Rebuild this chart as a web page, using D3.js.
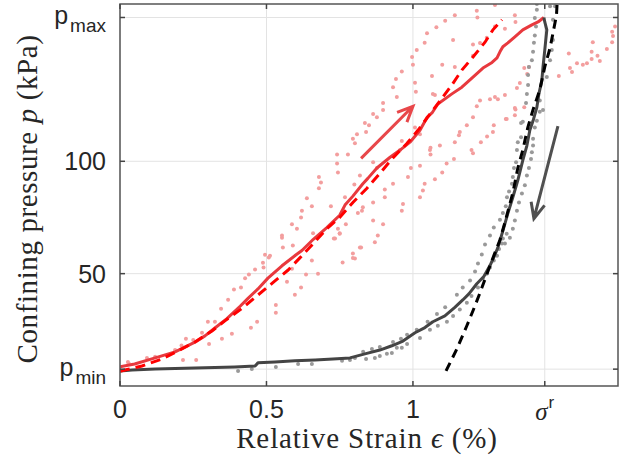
<!DOCTYPE html>
<html>
<head>
<meta charset="utf-8">
<script src="https://cdn.jsdelivr.net/npm/d3@7"></script>
<style>
  body { margin: 0; background: #fff; }
  svg { display: block; }
</style>
</head>
<body>
<script>
// ---- data: [strain %, pressure kPa] ----
var pMin = 7.5, pMax = 164, sigmaR = 1.45;

var xTicks = [0, 0.5, 1, sigmaR];
var xTickLabels = ["0", "0.5", "1", "sigma"];
var yTicks = [pMin, 50, 100, pMax];
var yTickLabels = ["pmin", "50", "100", "pmax"];

// mean loading curve (red solid)
var loadMean = [[0,8.5],[0.05,9.8],[0.12,12.5],[0.188,15.2],[0.256,19.5],[0.29,22.3],[0.324,25.8],
  [0.365,30],[0.41,35.5],[0.437,39],[0.471,43.2],[0.505,48],[0.553,53.5],[0.6,58.3],[0.621,60.3],
  [0.66,65.3],[0.706,70.5],[0.75,76],[0.768,80.5],[0.795,84.5],[0.829,90],[0.846,92.4],[0.877,97],
  [0.922,101.8],[0.956,105],[0.99,108.5],[1.024,113.8],[1.048,119.5],[1.065,121.5],[1.085,125.5],
  [1.133,130],[1.167,133],[1.205,137.5],[1.239,141.5],[1.27,144],[1.287,146],[1.297,148.7],
  [1.307,151],[1.324,152.7],[1.348,155.4],[1.375,158.5],[1.406,160.7],[1.427,162],[1.447,164]];

// fitted loading curve (red dashed)
var loadFit = [[0,6.5],[0.017,7.1],[0.075,8.9],[0.143,12],[0.198,15.6],[0.256,19.6],[0.314,24.5],
  [0.358,29],[0.416,34.5],[0.471,40.5],[0.522,46],[0.573,51.5],[0.614,57],[0.66,63.4],[0.706,70],
  [0.75,75],[0.795,81.7],[0.843,88],[0.887,94.6],[0.928,101],[0.98,108],[1.017,113.8],
  [1.058,121],[1.099,128],[1.133,134],[1.167,140.6],[1.205,146.4],[1.246,153],[1.273,158.5],[1.304,163]];

// mean unloading curve (dark solid)
var unloadMean = [[1.447,164],[1.45,162],[1.457,158.5],[1.45,149.5],[1.444,142],[1.44,136],
  [1.43,130],[1.423,124],[1.41,118],[1.399,113.8],[1.389,107],[1.375,100.4],[1.358,91.5],
  [1.341,84],[1.324,76.8],[1.307,69],[1.29,61.6],[1.275,57],[1.263,53.6],[1.242,48.7],
  [1.218,45.5],[1.191,41],[1.171,38.4],[1.143,35],[1.109,31.2],[1.068,28.6],[1.041,26],
  [1.007,23.7],[0.966,20],[0.928,17.9],[0.887,16],[0.836,14.3],[0.785,12.5],[0.727,12],
  [0.666,11.6],[0.597,11.2],[0.529,10.7],[0.471,10.3],[0.461,8.9],[0.392,8.5],[0.256,8],
  [0.12,7.6],[0.041,7.1],[0,6.7]];

// fitted unloading curve (black dashed)
var unloadFit = [[1.113,6.7],[1.15,16.5],[1.184,26.8],[1.205,33.5],[1.229,41.5],[1.253,50],
  [1.273,57],[1.297,65],[1.314,72.8],[1.341,86],[1.358,97],[1.375,105],[1.392,115],[1.41,123],
  [1.433,131.7],[1.45,142],[1.468,150.4],[1.478,157],[1.49,165],[1.492,170]];

// individual loading measurements (pink)
var loadDots = [[0.027,10.7],[0.092,12.5],[0.12,13],[0.188,16],[0.21,18],[0.225,21],[0.25,20.5],
  [0.28,23.7],[0.30,28.6],[0.324,28.6],[0.345,34.4],[0.369,38.4],[0.389,42.9],[0.413,43.8],
  [0.427,48],[0.44,49.6],[0.461,51.8],[0.488,54.9],[0.508,57.2],[0.49,52.7],[0.03,10],
  [0.215,11.6],[0.26,11.6],[0.304,18.7],[0.348,21],[0.382,23.2],[0.447,25.9],[0.468,28.6],
  [0.532,32.6],[0.532,36],[0.597,40.6],[0.618,43.8],[0.57,46.4],[0.635,49.6],[0.587,52.2],
  [0.553,66],[0.556,61.6],[0.59,62.5],[0.655,55.8],[0.659,68],[0.676,50],
  [0.512,58],[0.495,58.4],[0.553,67],[0.587,72],[0.604,70],[0.618,75],[0.621,78],[0.638,83.5],
  [0.655,80],[0.679,88],[0.686,90.6],[0.679,93],[0.741,103],[0.741,99],[0.744,95],[0.778,103],
  [0.802,108],[0.795,110],[0.809,112],[0.84,113],[0.836,117],[0.85,116],[0.864,121],[0.877,119.6],
  [0.72,80],[0.73,65.6],[0.744,70],[0.75,68],[0.771,72],[0.768,84],[0.8,89.7],[0.819,93.7],
  [0.812,77],[0.826,78],[0.829,79.5],[0.864,81.7],[0.864,99.6],[0.877,97],[0.904,87.5],[0.904,84],
  [0.932,90],[0.956,105],[0.962,109],[0.983,93],[0.993,97],[1.024,98],[1.007,115],[1.024,112],
  [1.06,106],[1.06,103],[1.075,92],[1.04,90],[1.034,87],[1.024,84],[0.87,64],[0.88,67],
  [0.864,73.7],[0.819,61.6],[0.795,57],[0.898,72],[0.966,81],[0.962,78],[0.734,65.6],[0.75,67.8],
  [0.76,55],[0.795,59],[0.802,56.7],[0.823,61.6],
  [1.1,95],[1.115,99],[1.14,101],[1.092,107],[1.058,105],[1.143,108.5],[1.157,111.6],[1.16,113],
  [1.184,116],[1.205,103.6],[1.2,105],[1.232,108.5],[1.253,111],[1.273,113],[1.276,116],
  [1.317,118.8],[1.348,120.5],[1.35,123],[1.205,119.6],[1.229,127],[1.218,124.5],[1.263,127.6],
  [1.28,128.6],[1.29,127.6],[1.314,129.5],[1.355,132.6],[1.365,134.8],[1.38,141.5],[1.39,138.8],
  [1.396,142],[1.348,123.7],[1.38,124],[1.32,118.8],
  [0.898,125.9],[0.898,122.8],[0.945,128.6],[0.932,133],[0.942,136.6],[0.962,140],[1.0,143],
  [0.997,146.4],[1.013,149.5],[1.04,152.7],[1.048,157],[1.08,159.6],[1.11,162.5],[1.143,165],
  [1.007,135],[1.01,131],[1.068,130],[1.1,143],[1.065,138],[1.075,129.5],[1.143,142],
  [1.137,154],[1.205,147],[1.205,152],[1.229,152.6],[1.252,155],[1.28,160],[1.314,159],
  [1.35,162],[1.348,165],[1.28,169.6],[1.218,167],[1.22,164],
  [1.498,138],[1.532,148],[1.536,141.5],[1.543,139.7],[1.56,143.6],[1.58,143],[1.594,143.6],
  [1.61,145.5],[1.61,148.7],[1.614,153],[1.63,147],[1.638,144.6],[1.662,150],[1.68,153],
  [1.68,157.6],[1.683,155.8],[1.69,160]];

// individual unloading measurements (grey)
var unloadDots = [[0.403,6.7],[0.45,7.6],[0.532,8.5],[0.608,9.8],[0.655,9.8],[0.758,11.2],
  [0.785,11.6],[0.802,12.5],[0.84,12],[0.887,13.4],[0.928,14.7],[0.962,17],
  [0.83,15.2],[0.86,16.5],[0.887,17.4],[0.932,19.6],[0.959,21],[0.98,22.8],[1.013,25],[1.05,28.6],
  [1.082,32],[1.11,35],[1.15,40.6],[1.17,43.8],[1.195,47],[1.212,51],[1.222,54.5],[1.235,58.5],
  [1.246,63],[1.263,67],
  [0.87,12.5],[0.911,14.3],[0.945,17],[0.98,18.7],[1.024,21.4],[1.058,25],[1.085,26.8],
  [1.116,28.6],[1.137,31.2],[1.16,34],[1.184,37],[1.2,40],[1.222,43.8],[1.239,47.8],[1.252,50],
  [1.263,52.7],[1.276,55.8],[1.287,58],[1.294,61],[1.304,63.4],[1.307,65.6],[1.32,67.8],
  [1.276,70.5],[1.297,74],[1.307,77],[1.317,80],[1.321,84],[1.328,86.6],[1.338,90],[1.341,93],
  [1.345,97],[1.352,99.6],[1.355,105],[1.358,108.5],[1.369,110.7],[1.369,117],
  [1.314,63.4],[1.331,66],[1.341,70],[1.348,73.7],[1.355,78],[1.362,81.7],[1.372,85.7],
  [1.382,89.3],[1.389,93.7],[1.396,97],[1.403,101],[1.406,104],[1.41,107],[1.41,110],[1.416,115],
  [1.423,118],[1.433,122],
  [1.375,117.6],[1.386,125.9],[1.389,130],[1.393,134],[1.393,138.4],[1.396,142],[1.406,145],
  [1.41,148.7],[1.413,152.7],[1.416,156],[1.42,160],[1.416,163.8],[1.423,167.4],[1.423,170],
  [1.444,122.8],[1.433,127],[1.457,137.5],[1.468,145],[1.474,149.5],[1.478,154],[1.478,163],
  [1.485,169],[1.468,169]];

// direction arrows: [from, to]
var loadArrow = [[0.823,101.3],[1.0,124.5]];
var unloadArrow = [[1.495,115.6],[1.413,74.5]];

// ---- drawing ----
var width = 622, height = 468;
var margin = {top: 4, right: 4, bottom: 82, left: 120};
var plotW = width - margin.left - margin.right,
    plotH = height - margin.top - margin.bottom;

var x = d3.scaleLinear().domain([0, 1.7]).range([0, plotW]);
var y = d3.scaleLinear().domain([0, 170]).range([plotH, 0]);

var svg = d3.select("body").append("svg")
  .attr("width", width).attr("height", height);
var g = svg.append("g")
  .attr("transform", "translate(" + margin.left + "," + margin.top + ")");

// grid
g.selectAll(".gx").data(xTicks).enter().append("line")
  .attr("x1", function(d) { return x(d); }).attr("x2", function(d) { return x(d); })
  .attr("y1", 0).attr("y2", plotH)
  .attr("stroke", "#e3e3e3").attr("stroke-width", 1);
g.selectAll(".gy").data(yTicks).enter().append("line")
  .attr("y1", function(d) { return y(d); }).attr("y2", function(d) { return y(d); })
  .attr("x1", 0).attr("x2", plotW)
  .attr("stroke", "#e3e3e3").attr("stroke-width", 1);

var plot = g.append("g");
plot.append("clipPath").attr("id", "clip").append("rect")
  .attr("width", plotW).attr("height", plotH);
var inner = plot.append("g").attr("clip-path", "url(#clip)");

// dots
inner.selectAll(".pink").data(loadDots).enter().append("circle")
  .attr("cx", function(d) { return x(d[0]); }).attr("cy", function(d) { return y(d[1]); })
  .attr("r", 2).attr("fill", "#f39e9e");
inner.selectAll(".grey").data(unloadDots).enter().append("circle")
  .attr("cx", function(d) { return x(d[0]); }).attr("cy", function(d) { return y(d[1]); })
  .attr("r", 2).attr("fill", "#999999");

var line = d3.line()
  .x(function(d) { return x(d[0]); })
  .y(function(d) { return y(d[1]); });

inner.append("path").datum(loadMean).attr("d", line)
  .attr("fill", "none").attr("stroke", "#e8393e").attr("stroke-width", 3)
  .attr("stroke-linejoin", "round");
inner.append("path").datum(unloadMean).attr("d", line)
  .attr("fill", "none").attr("stroke", "#444444").attr("stroke-width", 3)
  .attr("stroke-linejoin", "round");
inner.append("path").datum(loadFit).attr("d", line)
  .attr("fill", "none").attr("stroke", "#ff0000").attr("stroke-width", 3)
  .attr("stroke-dasharray", "10,6");
inner.append("path").datum(unloadFit).attr("d", line)
  .attr("fill", "none").attr("stroke", "#000000").attr("stroke-width", 3)
  .attr("stroke-dasharray", "9,6");

// arrows with open heads
function drawArrow(a, color)
{
  var x0 = x(a[0][0]), y0 = y(a[0][1]), x1 = x(a[1][0]), y1 = y(a[1][1]);
  var ang = Math.atan2(y1 - y0, x1 - x0);
  var len = 17, spread = 0.42;
  var h1 = [x1 - len * Math.cos(ang - spread), y1 - len * Math.sin(ang - spread)];
  var h2 = [x1 - len * Math.cos(ang + spread), y1 - len * Math.sin(ang + spread)];
  inner.append("path")
    .attr("d", "M" + x0 + "," + y0 + "L" + x1 + "," + y1 +
               "M" + h1[0] + "," + h1[1] + "L" + x1 + "," + y1 + "L" + h2[0] + "," + h2[1])
    .attr("fill", "none").attr("stroke", color).attr("stroke-width", 3)
    .attr("stroke-linejoin", "miter");
}
drawArrow(loadArrow, "#e8474a");
drawArrow(unloadArrow, "#505050");

// box
g.append("rect").attr("width", plotW).attr("height", plotH)
  .attr("fill", "none").attr("stroke", "#555").attr("stroke-width", 1.5);

// inward ticks on all four sides
var tl = 5;
xTicks.forEach(function(d) {
  g.append("line").attr("x1", x(d)).attr("x2", x(d)).attr("y1", plotH).attr("y2", plotH - tl)
    .attr("stroke", "#444").attr("stroke-width", 1.5);
  g.append("line").attr("x1", x(d)).attr("x2", x(d)).attr("y1", 0).attr("y2", tl)
    .attr("stroke", "#444").attr("stroke-width", 1.5);
});
yTicks.forEach(function(d) {
  g.append("line").attr("y1", y(d)).attr("y2", y(d)).attr("x1", 0).attr("x2", tl)
    .attr("stroke", "#444").attr("stroke-width", 1.5);
  g.append("line").attr("y1", y(d)).attr("y2", y(d)).attr("x1", plotW).attr("x2", plotW - tl)
    .attr("stroke", "#444").attr("stroke-width", 1.5);
});

// tick labels
var sans = "Liberation Sans";
var serif = "Liberation Serif";

xTicks.forEach(function(d, i) {
  var t = g.append("text").attr("x", x(d)).attr("y", plotH + 32)
    .attr("text-anchor", "middle").attr("font-family", sans).attr("font-size", 25)
    .attr("fill", "#262626");
  if (xTickLabels[i] == "sigma")
  {
    t.attr("y", plotH + 34);
    t.append("tspan").attr("font-family", serif).attr("font-style", "italic")
      .attr("font-size", 25).text("\u03c3");
    t.append("tspan").attr("font-size", 17).attr("dy", -12).attr("dx", 1).text("r");
  }
  else
    t.text(xTickLabels[i]);
});

yTicks.forEach(function(d, i) {
  var lab = yTickLabels[i];
  var t = g.append("text").attr("x", -14).attr("text-anchor", "end")
    .attr("font-family", sans).attr("font-size", 25).attr("fill", "#262626");
  if (lab == "pmin" || lab == "pmax")
  {
    t.attr("y", y(d) + 7);
    t.append("tspan").text("p");
    t.append("tspan").attr("font-size", 19).attr("dy", 8).attr("dx", 2).text(lab.slice(1));
  }
  else
    t.attr("y", y(d) + 9).text(lab);
});

// axis titles
var xl = svg.append("text").attr("x", 367).attr("y", 448)
  .attr("text-anchor", "middle").attr("font-family", serif).attr("font-size", 29)
  .attr("fill", "#262626").attr("letter-spacing", 0.9);
xl.append("tspan").text("Relative Strain ");
xl.append("tspan").attr("font-style", "italic").text("\u03f5");
xl.append("tspan").text(" (%)");

var yl = svg.append("text")
  .attr("transform", "translate(37,199) rotate(-90)")
  .attr("text-anchor", "middle").attr("font-family", serif).attr("font-size", 29)
  .attr("fill", "#262626").attr("letter-spacing", 0.6);
yl.append("tspan").text("Confining pressure ");
yl.append("tspan").attr("font-style", "italic").text("p");
yl.append("tspan").text(" (kPa)");
</script>
</body>
</html>
